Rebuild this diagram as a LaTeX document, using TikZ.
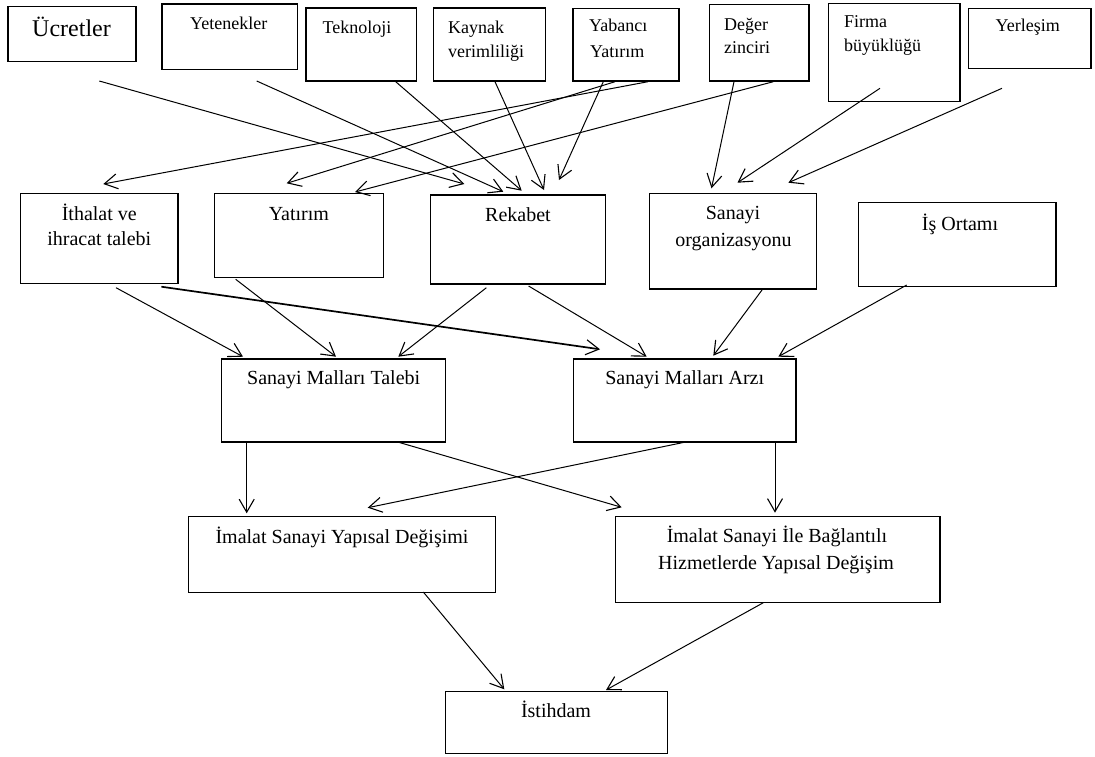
\documentclass[tikz,border=0pt]{standalone}
\usepackage{fontspec}
\setmainfont{Liberation Serif}
\usetikzlibrary{arrows.meta}

\tikzset{
  box/.style={draw, line width=1.15pt, rectangle, inner sep=0pt},
  lbl/.style={inner sep=0pt, anchor=base, font=\fontsize{20}{24}\selectfont},
  lbll/.style={inner sep=0pt, anchor=base west, font=\fontsize{18}{22}\selectfont},
  arr/.style={line width=1pt, -{Straight Barb[length=13pt,width=15pt,line width=1.1pt]}},
  thickarr/.style={arr, line width=1.7pt},
}

% box node from its corner coordinates (x1,y1) (x2,y2), y measured downwards
\newcommand\mkbox[5]{%
  \node[box, minimum width={(#4-#2)*1pt}, minimum height={(#5-#3)*1pt}]
    (#1) at ({(#2+#4)/2},{(#3+#5)/2}) {};}

\begin{document}
\begin{tikzpicture}[x=1pt,y=-1pt]
\useasboundingbox (0,0) rectangle (1095,756);

% ---- factors (top row)
\mkbox{ucr}{8}{6.7}{136}{61.7}
\mkbox{yet}{162}{4}{297.5}{69.3}
\mkbox{tek}{306}{8}{416.5}{81}
\mkbox{kay}{433.3}{8}{545.7}{81}
\mkbox{yab}{573}{8.3}{679}{81}
\mkbox{deg}{709.5}{4.7}{809}{81}
\mkbox{fir}{828.5}{3.3}{960}{101.7}
\mkbox{yer}{968.5}{8.3}{1091}{68.7}

\node[lbll, font=\fontsize{24}{28}\selectfont] (ucr-t) at (32,36) {Ücretler};
\node[lbll] (yet-t) at (190,29.3) {Yetenekler};
\node[lbll] (tek-t) at (322.5,33.3) {Teknoloji};
\node[lbll] (kay-t1) at (448,33.3) {Kaynak};
\node[lbll] (kay-t2) at (448,57.3) {verimliliği};
\node[lbll] (yab-t1) at (589,31.7) {Yabancı};
\node[lbll] (yab-t2) at (590,57.3) {Yatırım};
\node[lbll] (deg-t1) at (724,30) {Değer};
\node[lbll] (deg-t2) at (724,53.3) {zinciri};
\node[lbll] (fir-t1) at (844,27.3) {Firma};
\node[lbll] (fir-t2) at (844,51.7) {büyüklüğü};
\node[lbll] (yer-t) at (995.4,31.7) {Yerleşim};

% ---- second row
\mkbox{ith}{20.7}{193.3}{178}{283.7}
\mkbox{yat}{214.6}{193.3}{383.2}{277.3}
\mkbox{rek}{430.4}{195}{605.5}{284}
\mkbox{org}{649.5}{193.3}{816.5}{289}
\mkbox{iso}{858.6}{202.7}{1056}{286.7}

\node[lbl] (ith-t1) at (99.3,220) {İthalat ve};
\node[lbl] (ith-t2) at (99.3,245.7) {ihracat talebi};
\node[lbl] (yat-t) at (298.9,220.7) {Yatırım};
\node[lbl] (rek-t) at (518,221.7) {Rekabet};
\node[lbl] (org-t1) at (733,219.3) {Sanayi};
\node[lbl] (org-t2) at (733.5,246) {organizasyonu};
\node[lbl] (iso-t) at (960,230) {İş Ortamı};

% ---- demand and supply
\mkbox{tal}{221.7}{359}{445.7}{442}
\mkbox{arz}{573.3}{359}{796}{442}
\node[lbl] (tal-t) at (333.7,384.3) {Sanayi Malları Talebi};
\node[lbl] (arz-t) at (684.7,384.3) {Sanayi Malları Arzı};

% ---- structural change
\mkbox{imy}{188.3}{516.7}{495.7}{592.3}
\mkbox{imb}{615.7}{516.7}{940}{602.7}
\node[lbl] (imy-t) at (342,543.3) {İmalat Sanayi Yapısal Değişimi};
\node[lbl] (imb-t1) at (777,542.7) {İmalat Sanayi İle Bağlantılı};
\node[lbl] (imb-t2) at (776,569.3) {Hizmetlerde Yapısal Değişim};

% ---- employment
\mkbox{ist}{445.7}{691.7}{667.3}{753.3}
\node[lbl] (ist-t) at (556,717.3) {İstihdam};

% ---- connector end points
\coordinate (ucr-o) at (99.3,81);
\coordinate (yet-o) at (256.7,81);
\coordinate (tek-o) at (395.7,81.7);
\coordinate (kay-o) at (495,81.7);
\coordinate (yab-o1) at (603.3,81.7);
\coordinate (yab-o2) at (615,81.7);
\coordinate (yab-o3) at (648,81.7);
\coordinate (deg-o1) at (773.3,81.7);
\coordinate (deg-o2) at (734,81.7);
\coordinate (fir-o) at (880,88.3);
\coordinate (yer-o) at (1002,88.3);

\coordinate (rek-a) at (464.3,184);
\coordinate (rek-b) at (503.3,191.7);
\coordinate (rek-c) at (521.7,190.7);
\coordinate (rek-d) at (544,190);
\coordinate (rek-e) at (559,180);
\coordinate (yat-a) at (286.7,183.3);
\coordinate (yat-b) at (355,192);
\coordinate (ith-a) at (103.3,184);
\coordinate (org-a) at (711.5,188.3);
\coordinate (org-b) at (737.5,182.7);
\coordinate (org-c) at (788.4,182.7);

\coordinate (ith-o1) at (116,287.7);
\coordinate (ith-o2) at (161.4,286.7);
\coordinate (yat-o) at (235.7,279.3);
\coordinate (rek-o1) at (486.4,287.7);
\coordinate (rek-o2) at (528.6,286);
\coordinate (org-o) at (762,290);
\coordinate (iso-o) at (906.7,285);

\coordinate (tal-a) at (243,356.7);
\coordinate (tal-b) at (336,356.7);
\coordinate (tal-c) at (398.3,356.7);
\coordinate (arz-a) at (600,349.3);
\coordinate (arz-b) at (646.7,356.7);
\coordinate (arz-c) at (713.3,355.7);
\coordinate (arz-d) at (778.3,356.7);

\coordinate (tal-o1) at (246.7,442);
\coordinate (tal-o2) at (397.7,442);
\coordinate (arz-o1) at (685.7,442);
\coordinate (arz-o2) at (775,442);
\coordinate (imy-a) at (246.7,513.3);
\coordinate (imy-b) at (367.7,507.7);
\coordinate (imb-a) at (621.7,507.3);
\coordinate (imb-b) at (775,512.7);

\coordinate (imy-o) at (423.3,592);
\coordinate (imb-o) at (763.3,602.7);
\coordinate (ist-a) at (504.3,689.3);
\coordinate (ist-b) at (606,690);

% ---- factors to second row
\draw[arr] (ucr-o) -- (rek-a);
\draw[arr] (yet-o) -- (rek-b);
\draw[arr] (tek-o) -- (rek-c);
\draw[arr] (kay-o) -- (rek-d);
\draw[arr] (yab-o1) -- (rek-e);
\draw[arr] (yab-o2) -- (yat-a);
\draw[arr] (yab-o3) -- (ith-a);
\draw[arr] (deg-o1) -- (yat-b);
\draw[arr] (deg-o2) -- (org-a);
\draw[arr] (fir-o) -- (org-b);
\draw[arr] (yer-o) -- (org-c);

% ---- second row to demand / supply
\draw[arr] (ith-o1) -- (tal-a);
\draw[thickarr] (ith-o2) -- (arz-a);
\draw[arr] (yat-o) -- (tal-b);
\draw[arr] (rek-o1) -- (tal-c);
\draw[arr] (rek-o2) -- (arz-b);
\draw[arr] (org-o) -- (arz-c);
\draw[arr] (iso-o) -- (arz-d);

% ---- demand / supply to structural change
\draw[arr] (tal-o1) -- (imy-a);
\draw[arr] (tal-o2) -- (imb-a);
\draw[arr] (arz-o1) -- (imy-b);
\draw[arr] (arz-o2) -- (imb-b);

% ---- structural change to employment
\draw[arr] (imy-o) -- (ist-a);
\draw[arr] (imb-o) -- (ist-b);
\end{tikzpicture}
\end{document}
